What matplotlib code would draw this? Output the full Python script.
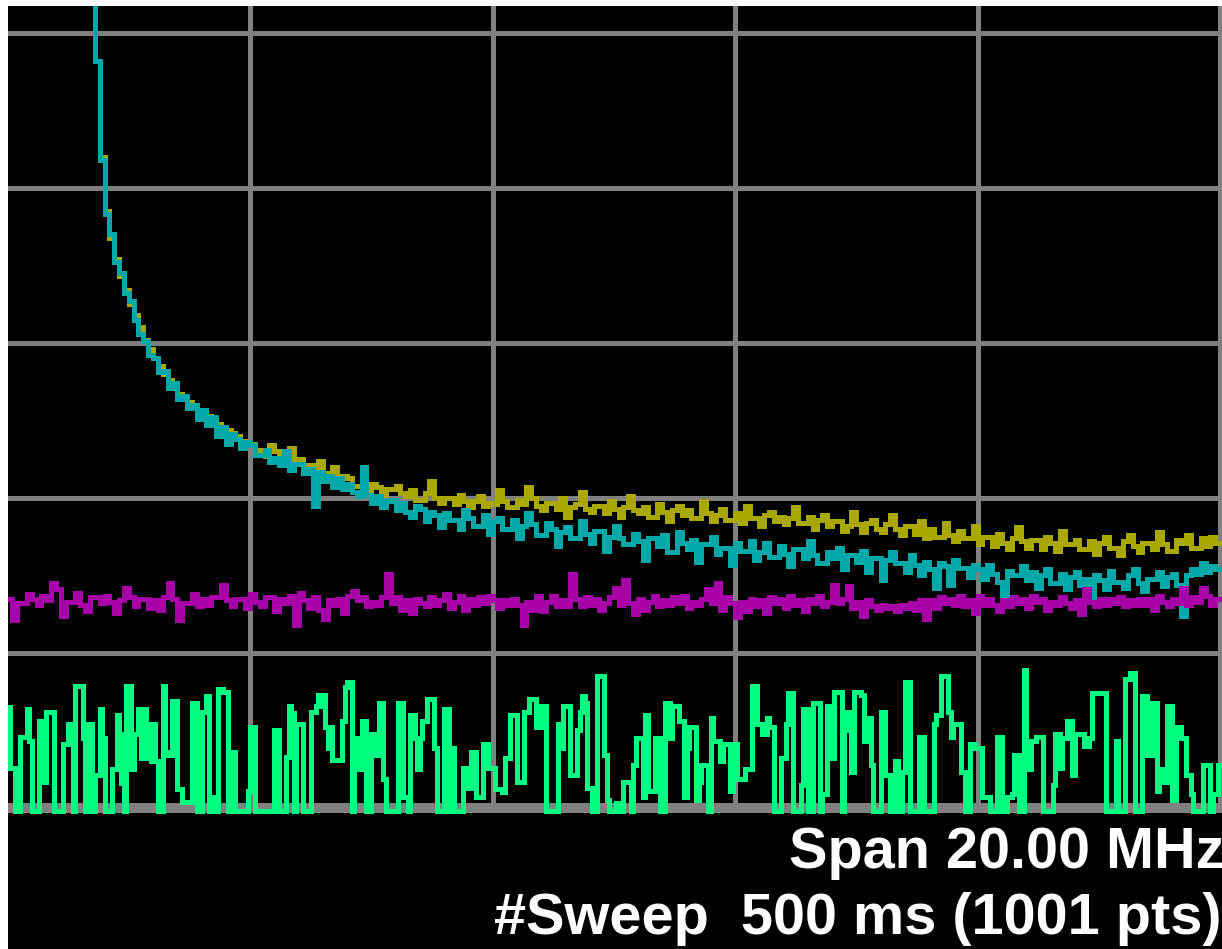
import numpy as np
import matplotlib
matplotlib.use("Agg")
import matplotlib.pyplot as plt

# trace values in dBm, left edge of the screen = 0 MHz
# yellow / cyan / magenta: every 2nd sweep point (0.04 MHz); green: every point (0.02 MHz)
# the first yellow/cyan points are above the top of the screen
F = -90.2  # green noise floor, just under the bottom line

yellow = [
    -35, -35, -35, -35, -35, -35, -35, -35, -35, -35,
    -35, -35, -35, -35, -35, -35, -35, -35, -41.8, -48.0,
    -51.5, -53.2, -54.6, -55.7, -56.6, -57.5, -58.2, -59.0, -59.8, -60.4,
    -61.0, -61.5, -62.0, -62.4, -62.9, -63.3, -63.5, -63.8, -64.1, -64.3,
    -64.5, -64.7, -64.9, -65.2, -65.4, -65.6, -65.8, -66.0, -66.3, -66.5,
    -66.5, -66.9, -66.9, -67.3, -66.6, -67.0, -67.4, -67.4, -66.8, -67.6,
    -67.5, -67.9, -67.9, -68.3, -67.6, -68.4, -68.4, -68.0, -68.9, -68.6,
    -68.7, -69.2, -69.2, -68.6, -69.5, -69.1, -69.3, -69.8, -69.4, -69.4,
    -69.2, -69.7, -69.9, -69.5, -70.1, -70.1, -69.7, -68.9, -70.0, -70.3,
    -70.0, -70.0, -70.4, -69.8, -70.2, -70.6, -70.2, -69.9, -70.5, -70.3,
    -70.4, -69.5, -70.2, -70.6, -70.6, -70.1, -70.4, -69.3, -70.0, -70.5,
    -70.8, -70.3, -70.3, -70.7, -70.0, -71.2, -70.6, -70.4, -69.6, -70.7,
    -70.9, -70.5, -70.5, -71.0, -70.2, -70.7, -71.2, -70.6, -69.9, -70.8,
    -71.0, -70.6, -71.2, -71.2, -70.4, -70.9, -71.5, -70.8, -70.5, -71.1,
    -70.8, -71.3, -71.3, -70.2, -71.0, -71.5, -71.1, -70.7, -71.4, -71.4,
    -71.0, -71.6, -70.5, -71.3, -71.3, -71.8, -71.1, -70.9, -71.5, -71.2,
    -71.7, -71.3, -70.6, -71.6, -71.6, -71.2, -72.0, -71.4, -71.1, -71.8,
    -71.5, -71.5, -72.1, -71.8, -70.9, -71.7, -72.2, -71.6, -71.4, -72.0,
    -72.2, -71.7, -71.1, -72.0, -72.4, -71.8, -71.8, -72.3, -71.5, -72.6,
    -72.0, -72.5, -72.5, -71.6, -72.4, -72.8, -72.1, -72.6, -72.6, -71.8,
    -73.0, -72.5, -72.5, -73.1, -72.3, -72.9, -73.3, -72.6, -71.9, -72.8,
    -73.2, -72.7, -72.7, -73.3, -72.5, -72.9, -73.4, -72.1, -73.0, -73.0,
    -72.7, -73.3, -73.3, -72.8, -73.6, -72.9, -72.5, -73.2, -73.2, -73.7,
    -72.8, -72.4, -73.1, -73.5, -72.9, -72.9, -73.3, -72.2, -73.0, -73.4,
    -73.4, -72.7, -72.9, -72.4, -73.2, -73.2, -72.6, -73.1, -72.5, -72.9,
]

cyan = [
    -35, -35, -35, -35, -35, -35, -35, -35, -35, -35,
    -35, -35, -35, -35, -35, -35, -35, -35, -41.8, -48.2,
    -51.7, -53.0, -54.8, -55.5, -56.8, -57.3, -58.5, -59.4, -59.9, -60.8,
    -61.0, -61.9, -61.8, -62.9, -62.6, -63.6, -63.4, -64.2, -64.0, -64.9,
    -64.3, -65.3, -64.8, -66.0, -65.4, -66.5, -65.9, -66.2, -66.8, -66.4,
    -66.6, -67.2, -67.2, -66.9, -67.7, -67.4, -67.9, -67.0, -68.2, -67.8,
    -67.8, -68.4, -68.1, -70.5, -68.3, -68.9, -68.6, -69.3, -68.7, -69.4,
    -69.1, -69.6, -69.9, -68.0, -69.8, -70.3, -69.9, -70.6, -70.2, -70.1,
    -70.8, -70.3, -70.9, -71.2, -70.5, -70.7, -71.5, -70.9, -71.1, -71.9,
    -71.0, -71.4, -71.4, -72.0, -70.8, -71.3, -71.8, -71.8, -71.1, -72.3,
    -71.5, -71.3, -72.0, -72.0, -71.4, -72.6, -71.8, -71.0, -71.7, -72.4,
    -72.4, -71.6, -72.0, -73.1, -72.2, -71.9, -72.6, -72.6, -71.5, -72.3,
    -72.9, -72.1, -72.1, -73.4, -72.5, -71.8, -72.6, -73.0, -73.0, -72.3,
    -72.8, -74.0, -72.6, -72.6, -73.1, -72.4, -73.5, -73.5, -72.2, -72.9,
    -73.3, -72.7, -74.1, -73.0, -73.0, -72.5, -73.6, -73.2, -73.2, -74.3,
    -72.9, -73.4, -73.4, -72.8, -74.0, -73.5, -72.9, -73.8, -73.8, -73.1,
    -73.6, -74.4, -73.3, -73.3, -73.9, -72.8, -73.7, -74.2, -74.2, -73.5,
    -73.9, -73.2, -74.6, -73.7, -73.7, -74.1, -73.4, -74.8, -73.9, -73.9,
    -75.3, -74.0, -73.5, -74.2, -74.2, -74.8, -73.7, -74.3, -75.0, -74.1,
    -74.6, -75.8, -74.2, -74.4, -75.6, -74.0, -74.5, -74.5, -75.1, -74.3,
    -74.6, -75.2, -74.3, -74.9, -75.4, -77.0, -74.7, -75.0, -75.0, -74.4,
    -75.3, -74.8, -75.8, -75.0, -74.6, -75.5, -75.5, -74.9, -75.9, -75.1,
    -74.8, -75.6, -75.2, -76.4, -75.0, -75.3, -75.9, -74.7, -75.4, -75.4,
    -75.8, -75.0, -74.6, -75.5, -76.0, -75.2, -75.2, -74.8, -75.7, -75.1,
    -74.9, -75.6, -77.6, -75.0, -74.6, -74.9, -74.2, -74.8, -74.4, -74.6,
]

magenta = [
    -76.5, -77.9, -76.8, -76.8, -76.2, -76.5, -76.9, -76.3, -76.6, -75.5,
    -75.9, -77.6, -76.7, -76.7, -76.1, -76.9, -77.3, -76.4, -76.4, -76.8,
    -76.3, -76.7, -77.4, -76.6, -75.8, -76.4, -77.0, -76.5, -76.5, -77.1,
    -76.6, -77.2, -76.4, -75.5, -76.5, -77.9, -76.8, -76.8, -76.2, -77.0,
    -76.5, -76.9, -76.4, -76.4, -75.6, -76.6, -77.0, -76.5, -76.5, -77.1,
    -76.2, -76.7, -77.0, -76.4, -76.4, -77.3, -76.5, -76.8, -76.3, -78.2,
    -76.1, -76.6, -77.1, -76.4, -77.2, -77.8, -76.6, -76.9, -76.5, -77.4,
    -76.3, -76.0, -76.6, -76.4, -77.0, -76.7, -76.9, -76.4, -74.9, -76.8,
    -76.4, -77.2, -76.6, -77.4, -76.5, -76.8, -77.0, -76.4, -76.9, -76.6,
    -76.2, -77.1, -76.7, -76.3, -77.2, -76.5, -76.9, -76.4, -76.8, -76.3,
    -76.6, -77.1, -76.6, -76.9, -76.5, -76.9, -78.2, -76.7, -77.2, -76.3,
    -77.3, -76.7, -76.3, -77.0, -76.6, -77.0, -74.9, -76.5, -77.0, -76.4,
    -76.9, -76.5, -77.2, -76.8, -76.4, -75.8, -76.9, -75.3, -76.8, -77.5,
    -76.5, -77.2, -76.7, -76.3, -77.0, -76.6, -76.9, -76.4, -76.8, -76.3,
    -77.1, -76.7, -76.9, -76.5, -75.9, -76.8, -75.5, -77.2, -76.4, -76.8,
    -77.7, -76.7, -77.3, -76.5, -77.0, -76.6, -77.4, -76.4, -76.8, -76.5,
    -77.1, -76.3, -76.9, -76.6, -77.3, -76.5, -76.8, -76.3, -77.0, -76.7,
    -75.6, -76.8, -76.5, -75.7, -77.1, -76.7, -77.6, -76.6, -77.0, -77.2,
    -76.9, -77.1, -77.0, -77.3, -76.9, -77.1, -76.8, -77.2, -76.6, -77.8,
    -76.6, -77.1, -76.4, -76.8, -76.5, -76.9, -76.3, -77.0, -76.6, -77.4,
    -76.3, -76.9, -76.5, -76.9, -77.3, -76.6, -77.0, -76.4, -76.8, -76.5,
    -77.1, -76.3, -76.7, -76.5, -77.2, -76.7, -76.9, -76.4, -76.8, -77.1,
    -76.6, -77.5, -75.9, -76.7, -77.0, -76.5, -76.9, -76.5, -76.8, -76.4,
    -77.0, -76.6, -76.9, -76.5, -76.9, -76.5, -77.2, -76.3, -76.7, -77.0,
    -76.5, -76.8, -75.8, -76.9, -76.4, -76.7, -75.8, -76.3, -76.9, -76.5,
]

green = [
    -83.5, -87.4, -87.4, F, F, -85.4, -85.4, -85.4, -83.6, -85.7,
    F, F, F, -84.4, -85.7, -88.3, -83.8, -83.8, -83.8, F,
    F, F, F, -85.9, -85.9, -84.6, -84.6, F, -82.1, -82.1,
    -82.1, -85.5, F, -84.6, -84.6, F, -87.9, -87.9, -83.6, -85.5,
    F, F, F, -87.5, -87.5, -84.0, -85.2, -88.4, F, -82.1,
    -82.1, -87.5, -85.2, -85.2, -83.6, -86.8, -83.6, -86.8, -84.6, -87.0,
    -84.6, -87.0, F, F, -82.1, -86.4, -86.6, -86.6, -83.1, -83.1,
    -88.8, -88.8, -89.6, -89.6, -89.6, -89.6, -83.2, -83.2, F, F,
    -83.8, -83.8, -82.8, F, F, -89.3, F, -82.3, -82.3, -82.5,
    -82.5, F, -86.4, -86.4, F, F, F, F, F, -88.9,
    -84.8, -84.8, F, F, F, F, F, F, F, F,
    -85.0, -85.0, F, F, F, -86.7, -83.4, -83.9, F, -84.6,
    -84.6, -84.6, F, F, F, -83.8, -83.8, -83.4, -82.7, -83.4,
    -82.7, -84.8, -86.1, -84.8, -86.9, -86.9, -86.9, -86.9, -84.4, -82.2,
    -81.9, -81.9, F, -85.5, -85.5, -87.5, -84.4, -84.4, F, F,
    -85.2, -85.2, -86.6, -83.2, -83.2, -88.1, F, F, F, F,
    F, -83.2, -83.2, -89.3, -89.3, F, -84.0, -84.0, -85.5, -87.5,
    -85.5, -84.4, -84.4, -83.0, -83.0, -83.0, -86.1, F, F, F,
    -83.6, -83.6, F, -86.1, F, F, F, F, -87.4, -88.7,
    -88.7, -86.4, -86.4, -89.3, -89.3, -89.3, -85.9, -85.9, -87.4, -87.4,
    -87.4, -88.8, -88.8, -88.8, -89.0, -86.8, -86.8, -84.0, -84.0, -84.0,
    -88.3, -88.3, -88.3, -83.8, -83.8, -83.0, -83.0, -83.0, -84.8, -84.8,
    -83.4, -83.4, F, F, F, F, F, -84.6, -86.1, -83.4,
    -83.4, -83.4, -87.9, -87.9, -87.9, -85.0, -83.8, -82.8, -83.2, -88.7,
    -88.7, F, F, -81.5, -81.5, -81.5, -86.6, -89.5, F, F,
    F, -89.7, -89.7, F, -88.3, -88.3, -88.3, F, -87.2, -85.5,
    -85.5, -85.5, -89.3, -84.0, -88.9, -88.9, -88.9, -85.5, -85.5, F,
    F, -83.2, -83.2, -85.5, -83.4, -83.4, -83.4, -84.4, -84.4, -89.3,
    -86.1, -84.8, -84.8, -84.8, -89.5, -88.3, -87.2, -87.2, -87.2, F,
    -84.2, -85.7, -85.7, -85.7, -87.0, -85.9, -85.9, -85.9, -88.9, -85.9,
    -85.9, -88.1, -88.1, -88.1, -87.5, -87.5, -87.5, -82.1, -82.1, -84.6,
    -84.6, -85.2, -85.2, -84.2, -84.8, -84.8, F, F, F, -86.8,
    -86.8, -84.6, -82.6, -82.6, F, F, F, -88.5, -83.6, -83.6,
    F, F, -83.2, -83.2, -83.2, F, -89.1, -89.1, -83.4, -83.4,
    -86.8, -82.5, -82.5, -82.5, F, -83.8, -83.8, -85.0, -87.7, -82.5,
    -82.5, -82.5, -82.7, -85.7, -84.2, -84.2, -87.2, F, F, F,
    -83.8, -83.8, -87.9, -87.9, F, F, -87.0, F, F, -87.7,
    -81.9, -81.9, F, F, F, F, -85.4, -85.4, F, F,
    F, F, -84.6, -84.0, -84.0, -81.5, -81.5, -81.5, -83.8, -85.4,
    -84.6, -84.6, -84.6, -87.7, -87.7, F, F, -85.9, -85.9, -86.1,
    -86.1, -86.1, -89.3, -89.3, -89.3, F, F, F, -85.4, -85.4,
    F, F, -89.3, -89.3, -89.1, -86.6, -86.6, F, F, -81.1,
    -87.5, -87.5, -85.7, -85.7, -85.4, -85.4, -85.4, F, F, F,
    F, -88.5, -85.2, -85.2, -87.4, -85.5, -85.5, -84.4, -84.4, -87.9,
    -85.2, -85.2, -85.2, -85.2, -86.0, -86.0, -85.5, -82.6, -82.6, -82.6,
    -82.6, -82.6, -82.6, F, F, F, F, -85.7, F, F,
    F, -81.7, -81.7, -81.3, -81.3, F, F, F, -82.8, -82.8,
    -86.6, -86.6, -83.2, -83.2, -88.9, -87.5, -88.3, -88.3, -83.4, -83.4,
    -89.5, -89.5, -84.8, -84.8, -85.5, -85.5, -87.9, -87.9, -89.1, F,
    F, F, F, -87.2, -87.2, -87.2, F, -89.1, -89.1, -87.2,
    -87.2,
]

W, H = 1222, 949
fig = plt.figure(figsize=(W / 100, H / 100), dpi=100, facecolor="white")
ax = fig.add_axes([8 / W, 0, (W - 8) / W, (H - 6) / H])
ax.set_facecolor("black")
ax.set_xlim(0.004, 10.016)
ax.set_ylim(-99.1, -38.26)
for s in ax.spines.values():
    s.set_visible(False)
ax.set_xticks([])
ax.set_yticks([])

lw = 2.2
grid = "#808080"
for lvl in [-40, -50, -60, -70, -80]:
    ax.axhline(lvl, color=grid, lw=lw, zorder=1, antialiased=False)
ax.axhline(-90, color=grid, lw=6.0, zorder=1, antialiased=False)
ax.vlines([2, 4, 6, 8, 10], -90, -30, color=grid, lw=lw, zorder=1, antialiased=False)

traces = [(yellow, 0.04, "#a8a800"), (cyan, 0.04, "#00a8a8"),
          (magenta, 0.04, "#a800a8"), (green, 0.02, "#00ff80")]
for k, (vals, step, col) in enumerate(traces):
    x = np.arange(len(vals) + 1) * step
    ax.plot(x, np.append(vals, vals[-1]), drawstyle="steps-post", color=col,
            lw=lw, antialiased=False, solid_joinstyle="miter", zorder=2 + k)

txt = dict(color="white", fontsize=41.5, fontweight="bold", family="Liberation Sans", va="baseline")
fig.text(789 / W, 1 - 868 / H, "Span 20.00 MHz", ha="left", **txt)
fig.text(1221 / W, 1 - 934 / H, "#Sweep  500 ms (1001 pts)", ha="right", **txt)

fig.savefig("out.png", dpi=100, facecolor="white")
